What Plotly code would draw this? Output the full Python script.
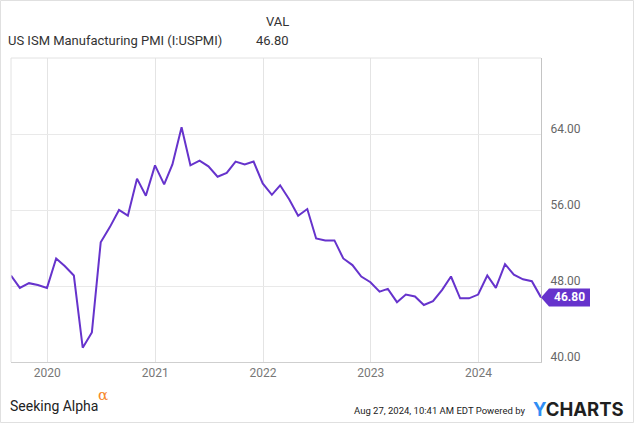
import pandas as pd
import plotly.graph_objects as go

# ---- data ----
dates = pd.date_range("2019-08-31", "2024-07-31", freq="ME")
pmi = [
    49.1, 47.8, 48.3, 48.1, 47.8,
    50.9, 50.1, 49.1, 41.5, 43.1, 52.6, 54.2, 56.0, 55.4, 59.3, 57.5, 60.7,
    58.7, 60.8, 64.7, 60.7, 61.2, 60.6, 59.5, 59.9, 61.1, 60.8, 61.1, 58.8,
    57.6, 58.6, 57.1, 55.4, 56.1, 53.0, 52.8, 52.8, 50.9, 50.2, 49.0, 48.4,
    47.4, 47.7, 46.3, 47.1, 46.9, 46.0, 46.4, 47.6, 49.0, 46.7, 46.7, 47.1,
    49.1, 47.8, 50.3, 49.2, 48.7, 48.5, 46.8,
]
y_ticks = [40, 48, 56, 64]
y_range = [40, 72]
x_ticks = ["2020-01-01", "2021-01-01", "2022-01-01", "2023-01-01", "2024-01-01"]
x_tick_labels = ["2020", "2021", "2022", "2023", "2024"]
series_name = "US ISM Manufacturing PMI (I:USPMI)"
last_val = pmi[-1]

W, H = 635, 424
L, R, T, B = 11, 94, 58, 62
PW, PH = W - L - R, H - T - B
PURPLE = "#6633CC"


def px(xp):
    return (xp - L) / PW


def py(yp):
    return (H - B - yp) / PH


fig = go.Figure()
fig.add_trace(go.Scatter(x=dates, y=pmi, mode="lines",
                         line=dict(color=PURPLE, width=2), hoverinfo="skip"))

fig.update_layout(
    width=W, height=H,
    margin=dict(l=L, r=R, t=T, b=B),
    paper_bgcolor="white", plot_bgcolor="white",
    showlegend=False,
    font=dict(family="Roboto", color="#666"),
    xaxis=dict(
        range=[dates[0], dates[-1]],
        tickvals=x_ticks, ticktext=x_tick_labels,
        showgrid=True, gridcolor="#e4e4e4", gridwidth=1,
        showline=True, linecolor="#cfcfcf", linewidth=1,
        ticks="", tickfont=dict(size=12, color="#777"),
        zeroline=False,
    ),
    yaxis=dict(
        range=y_range, side="right",
        tickvals=y_ticks, ticktext=[f"{v:.2f}" for v in y_ticks],
        showgrid=True, gridcolor="#e9e9e9", gridwidth=1,
        showline=True, linecolor="#c4c4c4", linewidth=1,
        ticks="", tickfont=dict(size=12, color="#666"),
        ticklabelshift=-5, ticklabelstandoff=6,
        zeroline=False,
    ),
)

# top/left plot border and outer frame
fig.add_shape(type="line", xref="paper", yref="paper", x0=0, x1=1, y0=1, y1=1,
              line=dict(color="#e2e2e2", width=1))
fig.add_shape(type="line", xref="paper", yref="paper", x0=0, x1=0, y0=0, y1=1,
              line=dict(color="#e2e2e2", width=1))
fig.add_shape(type="rect", xref="paper", yref="paper",
              x0=px(0.5), x1=px(W - 1.5), y0=py(H - 1.5), y1=py(0.5),
              line=dict(color="#e0e0e0", width=1))

# last value tag
x_tip, x1, x2 = px(541), px(549), px(590)
h = 9 / (PH / (y_range[1] - y_range[0]))
fig.add_shape(type="path", xref="paper", yref="y",
              path=(f"M {x_tip},{last_val} L {x1},{last_val + h} L {x2},{last_val + h} "
                    f"L {x2},{last_val - h} L {x1},{last_val - h} Z"),
              fillcolor=PURPLE, line=dict(width=0))
tag_y = (last_val - y_range[0]) / (y_range[1] - y_range[0])
fig.add_annotation(xref="paper", yref="paper", x=(x1 + x2) / 2, y=tag_y,
                   xanchor="center", yanchor="middle",
                   text=f"<b>{last_val:.2f}</b>", showarrow=False,
                   font=dict(size=12, color="white", family="Roboto"))

# header
fig.add_annotation(xref="paper", yref="paper", x=px(6), y=py(40), xanchor="left",
                   yanchor="middle", text=series_name, showarrow=False,
                   font=dict(size=13, color="#333", family="Roboto"))
fig.add_annotation(xref="paper", yref="paper", x=px(291), y=py(22), xanchor="right",
                   yanchor="middle", text="VAL", showarrow=False,
                   font=dict(size=13, color="#333", family="Roboto"))
fig.add_annotation(xref="paper", yref="paper", x=px(291), y=py(40), xanchor="right",
                   yanchor="middle", text=f"{last_val:.2f}", showarrow=False,
                   font=dict(size=13, color="#333", family="Roboto"))

# footer
fig.add_annotation(xref="paper", yref="paper", x=px(8), y=py(406), xanchor="left",
                   yanchor="middle", text="Seeking Alpha", showarrow=False,
                   font=dict(size=14, color="#222", family="Roboto"))
fig.add_annotation(xref="paper", yref="paper", x=px(96), y=py(395), xanchor="left",
                   yanchor="middle", text="α", showarrow=False,
                   font=dict(size=15, color="#f7882b", family="DejaVu Serif"))
fig.add_annotation(xref="paper", yref="paper", x=px(527), y=py(410), xanchor="right",
                   yanchor="middle", text="Aug 27, 2024, 10:41 AM EDT Powered by",
                   showarrow=False,
                   font=dict(size=9.5, color="#222", family="Roboto"))
fig.add_annotation(xref="paper", yref="paper", x=px(531), y=py(409), xanchor="left",
                   yanchor="middle",
                   text="<b><span style='color:#2f8ef4'>Y</span>CHARTS</b>",
                   showarrow=False,
                   font=dict(size=18.5, color="#1f1f1f", family="Inter"))

fig.write_html("out.html", config={"displayModeBar": False},
               post_script="document.body.style.margin='0';")
